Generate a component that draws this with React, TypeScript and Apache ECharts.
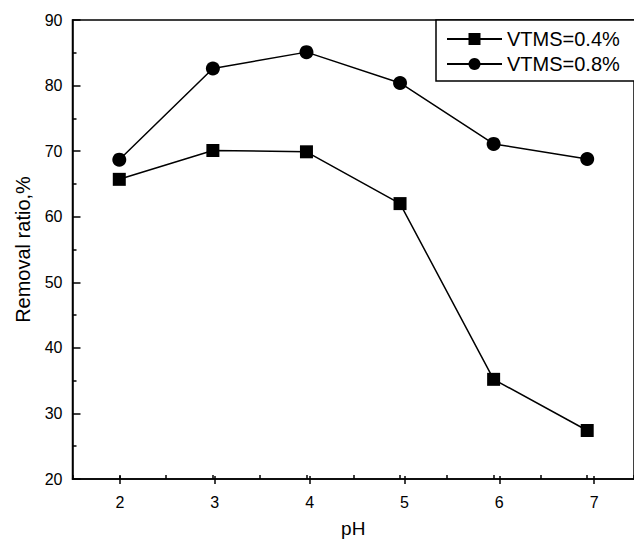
import React, { useEffect, useRef } from "react";
import * as echarts from "echarts";

const phValues = [2, 3, 4, 5, 6, 7];
const vtms04 = [65.7, 70.1, 69.9, 62.0, 35.2, 27.4];
const vtms08 = [68.7, 82.6, 85.1, 80.4, 71.1, 68.8];
const seriesNames = ["VTMS=0.4%", "VTMS=0.8%"];
const xAxisName = "pH";
const yAxisName = "Removal ratio,%";

const FONT = "'Liberation Sans', Arial, sans-serif";

export default function App() {
  const ref = useRef<HTMLDivElement>(null);
  useEffect(() => {
    document.body.style.margin = "0";
    const chart = echarts.init(ref.current!, null, { renderer: "svg" });
    const gridLeft = 72.5;
    const gridRight = -7.5;
    const width = 634 - gridLeft - gridRight;
    const xMin = 1.5;
    const xMax = 7.5;
    const perUnit = width / (xMax - xMin);
    const g1Left = gridLeft + (phValues[0] - xMin) * perUnit;
    const g1Right = 634 - (gridLeft + (phValues[phValues.length - 1] - xMin) * perUnit);
    const black = "#000";
    chart.setOption({
      animation: false,
      textStyle: { fontFamily: FONT, color: black },
      grid: [
        { left: gridLeft, right: gridRight, top: 20, bottom: 59, show: true, borderColor: black, borderWidth: 1.5, containLabel: false },
        { left: g1Left, right: g1Right, top: 20, bottom: 59, containLabel: false },
      ],
      legend: {
        orient: "vertical",
        left: 436,
        top: 20,
        padding: [7, 40, 5, 10],
        borderColor: black,
        borderWidth: 1.5,
        backgroundColor: "#fff",
        itemWidth: 55,
        itemHeight: 15,
        itemGap: 1,
        textStyle: { fontFamily: FONT, fontSize: 20, lineHeight: 24, color: black },
        data: seriesNames,
      },
      xAxis: [
        {
          type: "value",
          gridIndex: 0,
          min: xMin,
          max: xMax,
          interval: 0.5,
          name: xAxisName,
          nameLocation: "middle",
          nameGap: 40,
          nameTextStyle: { fontFamily: FONT, fontSize: 19, color: black },
          axisLine: { lineStyle: { color: black, width: 1.5 } },
          axisTick: { inside: true, length: 4, lineStyle: { color: black, width: 1.5 } },
          axisLabel: { show: false },
          splitLine: { show: false },
        },
        {
          type: "value",
          gridIndex: 1,
          min: phValues[0],
          max: phValues[phValues.length - 1],
          interval: 1,
          axisLine: { show: false },
          axisTick: { inside: true, length: 8, lineStyle: { color: black, width: 1.5 } },
          axisLabel: { fontFamily: FONT, fontSize: 16, color: black, margin: 10 },
          splitLine: { show: false },
        },
      ],
      yAxis: [
        {
          type: "value",
          gridIndex: 0,
          min: 20,
          max: 90,
          interval: 10,
          name: yAxisName,
          nameLocation: "middle",
          nameGap: 40,
          nameRotate: 90,
          nameTextStyle: { fontFamily: FONT, fontSize: 20, color: black },
          axisLine: { show: true, lineStyle: { color: black, width: 1.5 } },
          axisTick: { inside: true, length: 8, lineStyle: { color: black, width: 1.5 } },
          minorTick: { show: true, splitNumber: 2, length: 4, lineStyle: { color: black, width: 1.5 } },
          axisLabel: { fontFamily: FONT, fontSize: 16, color: black, margin: 10 },
          splitLine: { show: false },
        },
        { type: "value", gridIndex: 1, min: 20, max: 90, show: false },
      ],
      series: [
        {
          name: seriesNames[0],
          type: "line",
          xAxisIndex: 0,
          yAxisIndex: 0,
          data: phValues.map((x, i) => [x, vtms04[i]]),
          symbol: "rect",
          symbolSize: 13,
          itemStyle: { color: black },
          lineStyle: { color: black, width: 1.5 },
        },
        {
          name: seriesNames[1],
          type: "line",
          xAxisIndex: 0,
          yAxisIndex: 0,
          data: phValues.map((x, i) => [x, vtms08[i]]),
          symbol: "circle",
          symbolSize: 14,
          itemStyle: { color: black },
          lineStyle: { color: black, width: 1.5 },
        },
      ],
    });
    return () => chart.dispose();
  }, []);
  return <div ref={ref} style={{ width: 634, height: 543 }} />;
}
